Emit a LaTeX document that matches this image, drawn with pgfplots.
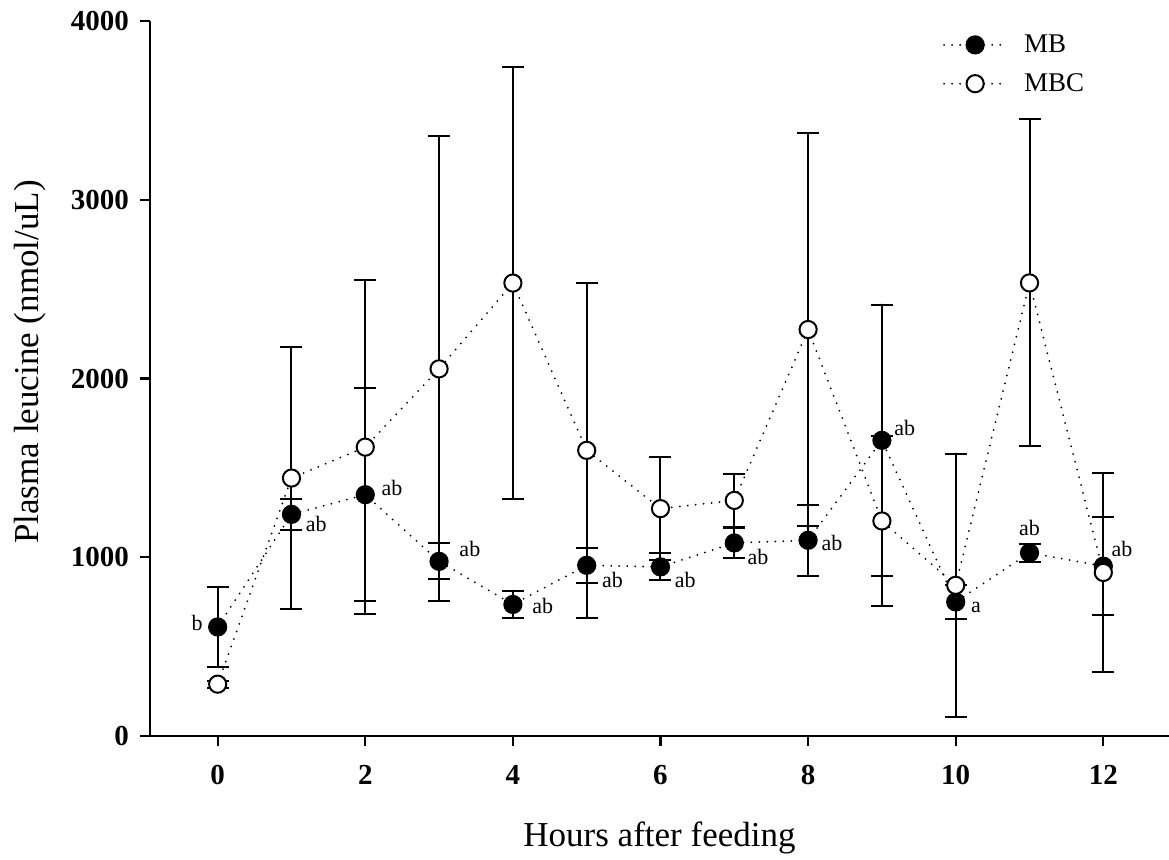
\documentclass[border=0pt]{standalone}
\usepackage{pgfplots}
\pgfplotsset{compat=1.18}
\usepackage{pgfplotstable}
\usepackage{fontspec}
\setmainfont{Liberation Serif}

\pgfplotstableread{
t mean err
0 610 225
1 1240 85
2 1350 595
3 977 100
4 736 77
5 955 97
6 946 76
7 1080 85
8 1095 200
9 1654 760
10 750 93
11 1025 50
12 950 275
}\mb

\pgfplotstableread{
t mean err
0 290 20
1 1443 735
2 1616 936
3 2054 1300
4 2534 1207
5 1598 937
6 1272 287
7 1318 150
8 2274 1100
9 1203 475
10 843 737
11 2535 915
12 915 555
}\mbc

\begin{document}
\begin{tikzpicture}
\begin{axis}[
  at={(0,0)}, anchor=south west,
  scale only axis, width=509.5pt, height=357.5pt,
  xmin=-0.917, xmax=12.89, ymin=0, ymax=4000,
  axis x line=bottom, axis y line=left,
  axis line style={-, line width=1.3pt},
  tick align=outside, major tick length=5pt,
  tick style={line width=1.1pt, black},
  xtick={0,2,...,12}, ytick={0,1000,...,4000},
  minor tick num=0,
  ticklabel style={font=\fontsize{14.5}{17}\selectfont\bfseries},
  /pgf/number format/assume math mode=true,
  /pgf/number format/1000 sep={},
  scaled y ticks=false,
  xticklabel style={yshift=-6pt},
  yticklabel style={xshift=-2pt},
  xlabel={Hours after feeding},
  ylabel={Plasma leucine (nmol/uL)},
  label style={font=\fontsize{17.5}{21}\selectfont},
  xlabel style={at={(axis description cs:0.5,0)}, anchor=center, yshift=-51pt},
  ylabel style={at={(axis description cs:0,0.523)}, anchor=center, yshift=60pt},
  legend style={at={(rel axis cs:0.776,0.99)}, anchor=north west, draw=none, fill=none,
    font=\fontsize{13.5}{16}\selectfont, row sep=5pt, inner sep=1pt},
  legend cell align=left,
  legend image code/.code={
    \draw[mark repeat=2,mark phase=2,#1] plot coordinates {(0pt,0pt) (15.5pt,0pt) (31pt,0pt)};
    \path (37.5pt,0pt);
  },
  every axis plot/.append style={line width=1pt, line cap=round, dash pattern=on 0pt off 4pt},
]
\addplot[black, mark=*, mark size=4.3pt, mark options={solid, fill=black, line width=1pt},
  error bars/.cd, y dir=both, y explicit,
  error bar style={solid, line width=1pt, black},
  error mark options={rotate=90, mark size=5.5pt, line width=1pt, solid}]
  table[x=t, y=mean, y error=err] {\mb};
\addlegendentry{MB}
\addplot[black, mark=*, mark size=4.3pt, mark options={solid, fill=white, line width=1pt},
  error bars/.cd, y dir=both, y explicit,
  error bar style={solid, line width=1pt, black},
  error mark options={rotate=90, mark size=5.5pt, line width=1pt, solid}]
  table[x=t, y=mean, y error=err] {\mbc};
\addlegendentry{MBC}

\tikzset{lab/.style={font=\fontsize{11}{13}\selectfont, inner sep=0pt}}
\node[lab, anchor=east] at (axis cs:0,610) [xshift=-7.3pt, yshift=2pt] {b};
\node[lab, anchor=west] at (axis cs:1,1240) [xshift=7pt, yshift=-5pt] {ab};
\node[lab, anchor=west] at (axis cs:2,1350) [xshift=8pt, yshift=3.5pt] {ab};
\node[lab, anchor=west] at (axis cs:3,977) [xshift=10pt, yshift=6pt] {ab};
\node[lab, anchor=west] at (axis cs:4,736) [xshift=9.5pt, yshift=-1pt] {ab};
\node[lab, anchor=west] at (axis cs:5,955) [xshift=7.5pt, yshift=-7.5pt] {ab};
\node[lab, anchor=west] at (axis cs:6,946) [xshift=7pt, yshift=-6.5pt] {ab};
\node[lab, anchor=west] at (axis cs:7,1080) [xshift=6.5pt, yshift=-7pt] {ab};
\node[lab, anchor=west] at (axis cs:8,1095) [xshift=6.5pt, yshift=-1.5pt] {ab};
\node[lab, anchor=west] at (axis cs:9,1654) [xshift=6pt, yshift=6pt] {ab};
\node[lab, anchor=west] at (axis cs:10,750) [xshift=7.5pt, yshift=-2.5pt] {a};
\node[lab, anchor=center] at (axis cs:11,1025) [yshift=12.5pt] {ab};
\node[lab, anchor=west] at (axis cs:12,950) [xshift=4pt, yshift=8.5pt] {ab};
\end{axis}
\pgfresetboundingbox
\path (-75pt,-61.5pt) rectangle (509.5pt,368pt);
\end{tikzpicture}
\end{document}
